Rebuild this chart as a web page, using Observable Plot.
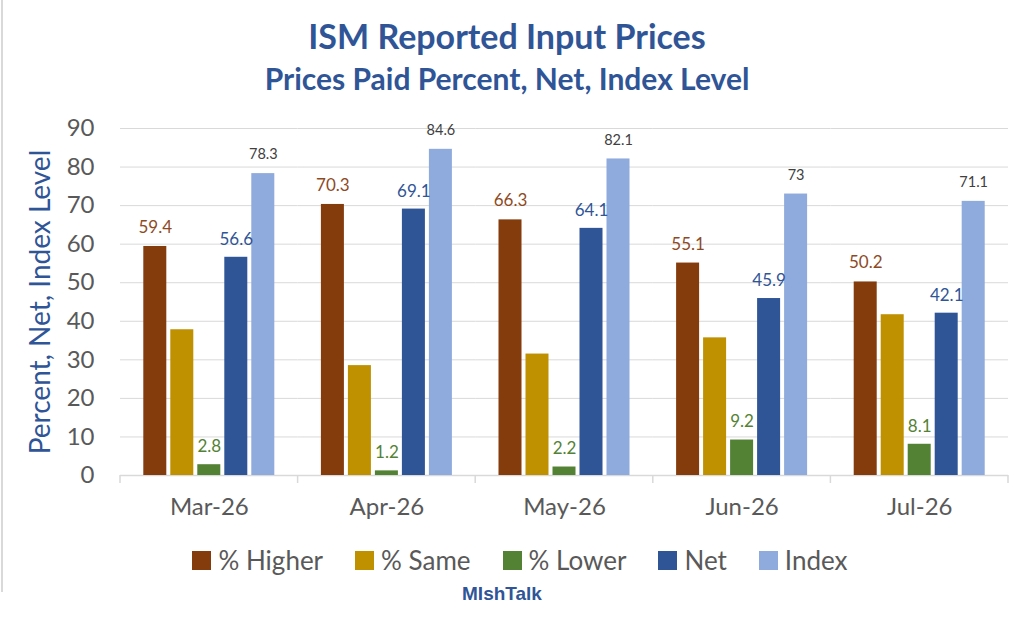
<!DOCTYPE html>
<html><head><meta charset="utf-8">
<script src="https://cdn.jsdelivr.net/npm/d3@7"></script>
<script src="https://cdn.jsdelivr.net/npm/@observablehq/plot@0.6"></script>
<style>
html,body{margin:0;padding:0;background:#fff;}
#wrap{position:relative;width:1024px;height:638px;overflow:hidden;font-family:Lato,sans-serif;background:#fff;}
#border{position:absolute;left:1px;top:0;width:2px;height:592px;background:#d9d9d9;}
.t{position:absolute;left:0;width:1014px;text-align:center;line-height:1;white-space:nowrap;color:#2F5597;font-weight:700;}
#title{top:19px;font-size:34px;}
#subtitle{top:63px;font-size:30px;}
#chart{position:absolute;left:0;top:100px;}
#legend{position:absolute;left:0;width:1040px;top:545px;display:flex;justify-content:center;gap:32px;font-size:26px;line-height:30px;color:#595959;}
#legend .it{display:flex;align-items:center;}
#legend .sw{width:19px;height:19px;margin-right:7px;}
#caption{position:absolute;left:0;width:1004px;top:584px;text-align:center;font-family:"Liberation Sans",Arial,sans-serif;font-weight:700;font-size:19px;line-height:19px;color:#2F5597;}
</style>
</head><body>
<div id="wrap">
  <div id="border"></div>
  <div class="t" id="title">ISM Reported Input Prices</div>
  <div class="t" id="subtitle">Prices Paid Percent, Net, Index Level</div>
  <div id="chart"></div>
  <div id="legend"></div>
  <div id="caption">MIshTalk</div>
</div>
<script>
const months = ["Mar-26", "Apr-26", "May-26", "Jun-26", "Jul-26"];
const series = ["% Higher", "% Same", "% Lower", "Net", "Index"];
const higher = [59.4, 70.3, 66.3, 55.1, 50.2];
const same = [37.8, 28.5, 31.5, 35.7, 41.7];
const lower = [2.8, 1.2, 2.2, 9.2, 8.1];
const net = [56.6, 69.1, 64.1, 45.9, 42.1];
const index = [78.3, 84.6, 82.1, 73, 71.1];
const colors = ["#843C0C", "#BF9000", "#548235", "#2F5597", "#8FAADC"];
const yTicks = [0, 10, 20, 30, 40, 50, 60, 70, 80, 90];

const values = [higher, same, lower, net, index];
const rows = months.flatMap((m, i) => series.map((s, j) => ({month: m, series: s, value: values[j][i]})));

const lab = (s, fill, fontSize, dy) => Plot.text(rows.filter(d => d.series === s), {
  fx: "month", x: "series", y: "value", text: d => String(d.value), dy, fill, fontSize
});

const plot = Plot.plot({
  width: 1024, height: 430,
  marginTop: 28, marginBottom: 55, marginLeft: 120, marginRight: 16,
  style: {fontFamily: "Lato, sans-serif", background: "transparent", overflow: "visible"},
  fx: {domain: months, padding: 0, label: null, round: false},
  x: {domain: series, axis: null, paddingInner: 0.148, paddingOuter: 0.863, round: false},
  y: {domain: [0, 90], label: null},
  color: {domain: series, range: colors},
  marks: [
    Plot.gridY(yTicks, {stroke: "#D9D9D9", strokeOpacity: 1}),
    Plot.ruleY([0], {stroke: "#D9D9D9", strokeWidth: 1.5}),
    Plot.axisY(yTicks, {tickSize: 0, tickPadding: 26, fontSize: 24, fill: "#595959", label: null}),
    Plot.axisY({ticks: [], tickSize: 0, label: "Percent, Net, Index Level", labelAnchor: "center", labelOffset: 90, labelArrow: "none", fontSize: 28, fill: "#2F5597"}),
    Plot.axisFx({anchor: "bottom", tickSize: 0, tickPadding: 22, fontSize: 24, fill: "#595959", label: null}),
    Plot.barY(rows, {fx: "month", x: "series", y: "value", fill: "series"}),
    lab("% Higher", "#8E4A1F", 17, -19),
    lab("% Lower", "#548235", 17, -18),
    lab("Net", "#2F5597", 17, -18),
    lab("Index", "#404040", 14.5, -19)
  ]
});
document.getElementById("chart").appendChild(plot);

// category boundary ticks under the baseline, from Plot's own scales
try {
  const fx = plot.scale("fx");
  const yS = plot.scale("y");
  const band = d3.scaleBand(fx.domain, fx.range)
    .paddingInner(fx.paddingInner || 0).paddingOuter(fx.paddingOuter || 0).align(fx.align ?? 0.5);
  const y0 = yS.apply ? yS.apply(0) : yS.range[0];
  const edges = fx.domain.map(m => band(m)).concat([band(fx.domain[fx.domain.length - 1]) + band.bandwidth()]);
  d3.select(plot).append("g").attr("aria-label", "category ticks")
    .selectAll("line").data(edges).join("line")
    .attr("x1", d => d).attr("x2", d => d).attr("y1", y0).attr("y2", y0 + 8)
    .attr("stroke", "#D9D9D9").attr("stroke-width", 1.5);
} catch (e) { console.error(e); }

const legend = d3.select("#legend");
series.forEach((s, i) => {
  const it = legend.append("div").attr("class", "it");
  it.append("div").attr("class", "sw").style("background", colors[i]);
  it.append("span").text(s);
});
</script>
</body></html>
